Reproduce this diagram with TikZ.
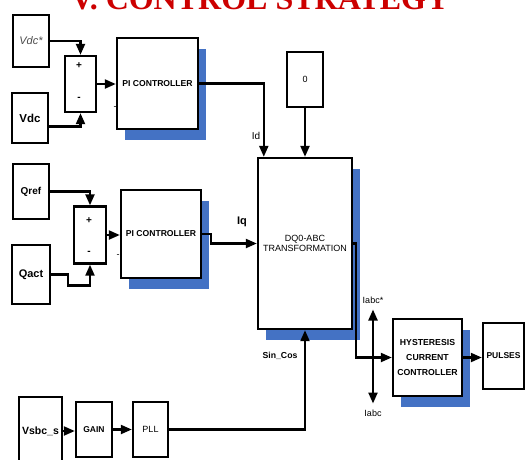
\documentclass[tikz,border=0pt]{standalone}
\usepackage{fontspec}
\setmainfont{Liberation Sans}
\newfontfamily\titlefont{Liberation Serif}
\usetikzlibrary{arrows.meta,shadows}
\definecolor{simblue}{RGB}{68,114,196}
\definecolor{titlered}{RGB}{204,0,0}
\tikzset{
  blk/.style={draw, line width=2.4pt, fill=white, inner sep=0pt, align=center, font=\fontsize{9}{10}\selectfont},
  sblk/.style={blk, drop shadow={shadow xshift=8pt, shadow yshift=-11pt, fill=simblue, opacity=1}},
  bx/.style 2 args={minimum width=#1pt, minimum height=#2pt},
  tip/.style={-{Triangle[length=11pt,width=9pt]}},
  arr/.style={line width=2.2pt, tip},
  wire/.style={line width=2.2pt},
  tag/.style={inner sep=1pt, font=\fontsize{9}{10}\selectfont}
}
\begin{document}
\begin{tikzpicture}[x=1pt, y=-1pt]
\useasboundingbox (0,0) rectangle (525,459);
\clip (0,0) rectangle (525,459);
% title
\node (title) at (260,9) [anchor=base, text=titlered, inner sep=0pt, font=\titlefont\bfseries\fontsize{32}{32}\selectfont] {V. CONTROL STRATEGY};
% dc voltage loop
\node (vdcref) at (31,41) [blk, bx={36}{52}, font=\itshape\fontsize{11}{12}\selectfont, text=black!70] {Vdc*};
\node (vdc) at (30,118) [blk, bx={36}{50}, font=\bfseries\fontsize{11.5}{12}\selectfont] {Vdc};
\node (sumA) at (80.5,84) [blk, bx={31}{56}] {};
\node (sumAp) at (79,66) [tag, font=\bfseries\fontsize{10}{10}\selectfont] {+};
\node (sumAm) at (79,99) [tag, font=\bfseries\fontsize{10}{10}\selectfont] {-};
\node (piA) at (157.5,83.5) [sblk, bx={81}{91}, font=\bfseries\fontsize{8.6}{10}\selectfont] {PI CONTROLLER};
\node (piAm) at (115,108) [tag] {-};
% reactive power loop
\node (qref) at (31,191.5) [blk, bx={36}{55}, font=\bfseries\fontsize{10}{12}\selectfont] {Qref};
\node (qact) at (31,274.5) [blk, bx={38}{59}, font=\bfseries\fontsize{11}{12}\selectfont] {Qact};
\node (sumB) at (90,235) [blk, bx={32}{57}] {};
\node (sumBp) at (89,221) [tag, font=\bfseries\fontsize{10}{10}\selectfont] {+};
\node (sumBm) at (89,253) [tag, font=\bfseries\fontsize{10}{10}\selectfont] {-};
\node (piB) at (161,234) [sblk, bx={80}{88}, font=\bfseries\fontsize{8.6}{10}\selectfont] {PI CONTROLLER};
\node (piBm) at (118,256) [tag] {-};
% transformation
\node (zero) at (305,79.5) [blk, bx={36}{55}] {0};
\node (dq) at (305,243.5) [sblk, bx={94}{171}] {DQ0-ABC\\TRANSFORMATION};
\node (idlbl) at (256,136) [tag, font=\fontsize{10}{12}\selectfont] {Id};
\node (iqlbl) at (242,222) [tag, font=\bfseries\fontsize{11}{12}\selectfont] {Iq};
\node (sclbl) at (280,356) [tag, font=\bfseries\fontsize{8.7}{10}\selectfont] {Sin\_Cos};
% current controller
\node (hyst) at (427.5,357.5) [sblk, bx={69}{77}, font=\bfseries\fontsize{8.7}{15}\selectfont] {HYSTERESIS\\CURRENT\\CONTROLLER};
\node (pulses) at (503.5,356) [blk, bx={41}{66}, font=\bfseries\fontsize{8.5}{10}\selectfont] {PULSES};
\node (iabcs) at (373,300) [tag] {Iabc*};
\node (iabc) at (373,413) [tag] {Iabc};
% phase locked loop
\node (vsbc) at (40.5,431) [blk, bx={43}{68}, font=\bfseries\fontsize{10.5}{12}\selectfont] {Vsbc\_s};
\node (gain) at (94,429.5) [blk, bx={36}{55}, font=\bfseries\fontsize{8.5}{10}\selectfont] {GAIN};
\node (pll) at (150.5,429.5) [blk, bx={35}{55}] {PLL};
% connections
\draw [arr] (vdcref.east) -| (sumA.north);
\draw [arr] (vdc.-24) -| (sumA.south);
\draw [arr] (sumA.east) -- (sumA.east -| piA.west);
\draw [arr] (piA.east) -| ([xshift=7pt]dq.north west);
\draw [arr] (zero) -- (dq);
\draw [arr] (qref.east) -| (sumB.north);
\draw [arr] (qact.east) -- ++(17,0) -- ++(0,11) -| (sumB.south);
\draw [arr] (sumB.east) -- (sumB.east -| piB.west);
\draw [arr] (piB.east) -- ++(9,0) |- (dq.west);
\draw [arr] (dq.east) -- ++(3,0) |- (hyst.west);
\draw [wire, {Triangle[length=11pt,width=9pt]}-{Triangle[length=11pt,width=9pt]}, shorten <=5pt, shorten >=5pt] (iabcs.south) -- (iabc.north);
\draw [arr] (hyst.east) -- (hyst.east -| pulses.west);
\draw [arr] (vsbc.east) -- (vsbc.east -| gain.west);
\draw [arr] (gain.east) -- (gain.east -| pll.west);
\draw [arr] (pll.east) -| (dq.south);
\end{tikzpicture}
\end{document}
